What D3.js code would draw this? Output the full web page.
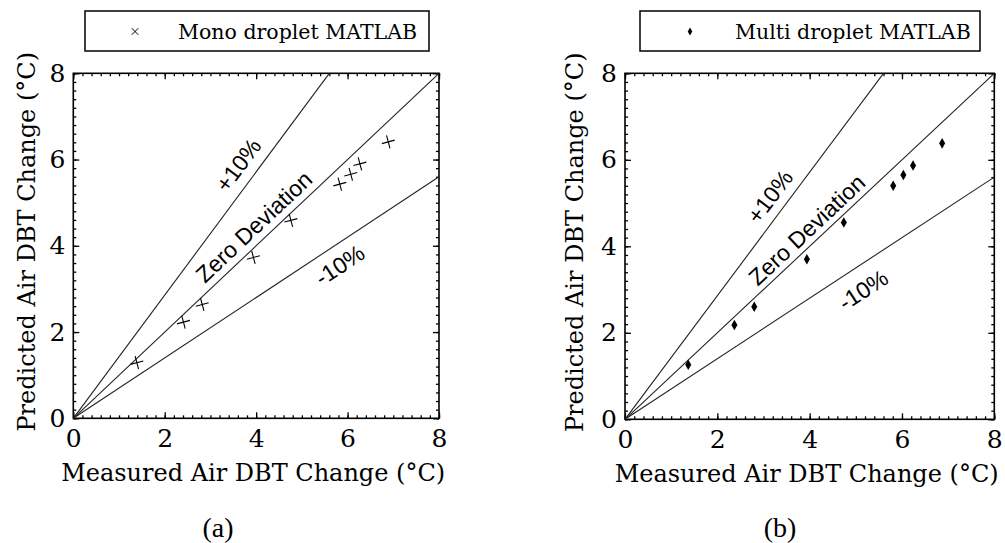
<!DOCTYPE html>
<html>
<head>
  <meta charset="utf-8">
  <title>Predicted vs measured air DBT change</title>
  <script src="https://d3js.org/d3.v7.min.js"></script>
  <style>
    body { margin: 0; background: #fff; }
    text { fill: #000; }
  </style>
</head>
<body>
  <script>
    // data
    const majorTicks = [0, 2, 4, 6, 8];
    const monoX  = [1.39, 2.41, 2.82, 3.94, 4.76, 5.83, 6.07, 6.27, 6.89];
    const monoY  = [1.29, 2.23, 2.64, 3.73, 4.59, 5.43, 5.66, 5.90, 6.41];
    const multiX = [1.37, 2.37, 2.80, 3.94, 4.74, 5.81, 6.03, 6.24, 6.87];
    const multiY = [1.26, 2.18, 2.60, 3.70, 4.55, 5.40, 5.65, 5.87, 6.38];
    const refSlopes = [1 / 0.7, 1, 0.7];
    const refLabels = ['+10%', 'Zero Deviation', '-10%'];

    const width = 1005, height = 543;
    const serif = 'DejaVu Serif';

    let svg = d3.select('body').append('svg')
      .attr('width', width)
      .attr('height', height);

    const minorTicks = d3.range(0, 8.001, 0.2).map(d => +d.toFixed(1));

    // one panel
    function drawPanel(p) {
      let x = d3.scaleLinear().domain([0, 8]).range([p.left, p.right]);
      let y = d3.scaleLinear().domain([0, 8]).range([p.bottom, p.top]);
      let g = svg.append('g');

      // ticks on all four sides, pointing inwards
      const sides = [
        [d3.axisBottom, `translate(0,${p.bottom})`, x],
        [d3.axisTop, `translate(0,${p.top})`, x],
        [d3.axisLeft, `translate(${p.left},0)`, y],
        [d3.axisRight, `translate(${p.right},0)`, y]
      ];
      sides.forEach(([ax, tr, sc], i) => {
        g.append('g').attr('transform', tr)
          .call(ax(sc).tickValues(minorTicks).tickSize(-3).tickFormat(''))
          .call(a => a.select('.domain').remove());
        let major = ax(sc).tickValues(majorTicks).tickSize(-6);
        if (i == 0) major.tickPadding(11);
        else if (i == 2) major.tickPadding(8);
        else major.tickFormat('');
        g.append('g').attr('transform', tr)
          .call(major)
          .call(a => a.select('.domain').remove())
          .call(a => a.selectAll('text')
            .attr('font-family', serif).attr('font-size', 25).attr('fill', '#000'));
      });
      g.selectAll('.tick line').attr('stroke', '#000').attr('stroke-width', 1.3);

      // frame
      g.append('rect')
        .attr('x', p.left).attr('y', p.top)
        .attr('width', p.right - p.left).attr('height', p.bottom - p.top)
        .attr('fill', 'none').attr('stroke', '#000').attr('stroke-width', 1.6);

      // deviation lines
      let line = d3.line().x(d => x(d[0])).y(d => y(d[1]));
      refSlopes.forEach((m, i) => {
        let end = [Math.min(8, 8 / m), Math.min(8, 8 * m)];
        g.append('path')
          .attr('d', line([[0, 0], end]))
          .attr('fill', 'none').attr('stroke', '#222').attr('stroke-width', 1.1);
        let ang = -Math.atan2(m * (p.bottom - p.top), p.right - p.left) * 180 / Math.PI;
        let pos = p.labelPos[i];
        g.append('text')
          .attr('transform', `translate(${x(pos[0])},${y(pos[1])}) rotate(${ang})`)
          .attr('text-anchor', 'middle')
          .attr('dominant-baseline', 'central')
          .attr('font-family', 'Liberation Sans')
          .attr('font-size', 23)
          .text(refLabels[i]);
      });

      // points
      let sym = d3.symbol().type(p.symbol).size(p.symSize);
      g.selectAll('.pt')
        .data(p.xs.map((d, i) => [d, p.ys[i]]))
        .enter()
        .append('path')
        .attr('transform', d => `translate(${x(d[0])},${y(d[1])}) rotate(${p.symRotate})`)
        .attr('d', sym)
        .attr('fill', p.filled ? '#000' : 'none')
        .attr('stroke', p.filled ? 'none' : '#000')
        .attr('stroke-width', 1.1);

      // axis titles
      g.append('text')
        .attr('x', (p.left + p.right) / 2 + p.xTitleShift).attr('y', p.bottom + 63)
        .attr('text-anchor', 'middle')
        .attr('font-family', serif).attr('font-size', 24)
        .text('Measured Air DBT Change (°C)');
      g.append('text')
        .attr('transform', `translate(${p.left - p.yTitleGap},${(p.top + p.bottom) / 2 - 4}) rotate(-90)`)
        .attr('text-anchor', 'middle')
        .attr('font-family', serif).attr('font-size', 24)
        .text('Predicted Air DBT Change (°C)');

      // legend
      let lg = p.legend;
      g.append('rect')
        .attr('x', lg.x).attr('y', 11)
        .attr('width', lg.w).attr('height', 40)
        .attr('fill', 'none').attr('stroke', '#000').attr('stroke-width', 1.5);
      g.append('path')
        .attr('transform', `translate(${lg.markX},31.5)`)
        .attr('d', d3.symbol().type(lg.symbol).size(lg.symSize))
        .attr('fill', p.filled ? '#000' : 'none')
        .attr('stroke', p.filled ? 'none' : '#000')
        .attr('stroke-width', 1);
      g.append('text')
        .attr('x', lg.textX).attr('y', 39)
        .attr('font-family', serif).attr('font-size', 20.5)
        .text(lg.text);

      // caption
      g.append('text')
        .attr('x', p.captionX).attr('y', 537)
        .attr('text-anchor', 'middle')
        .attr('font-family', 'Liberation Serif').attr('font-size', 28)
        .text(p.caption);
    }

    drawPanel({
      left: 73.3, right: 439, top: 73.3, bottom: 418.3,
      xs: monoX, ys: monoY,
      symbol: d3.symbolPlus, symSize: 60, symRotate: -15, filled: false,
      labelPos: [[3.61, 5.87], [3.95, 4.44], [5.83, 3.55]],
      xTitleShift: -3, yTitleGap: 38,
      legend: { x: 85, w: 344, markX: 135, symbol: d3.symbolTimes, symSize: 30,
                textX: 178, text: 'Mono droplet MATLAB' },
      caption: '(a)', captionX: 218
    });

    drawPanel({
      left: 625, right: 994.3, top: 73.3, bottom: 419.3,
      xs: multiX, ys: multiY,
      symbol: d3.symbolDiamond, symSize: 32, symRotate: 0, filled: true,
      labelPos: [[3.14, 5.15], [3.94, 4.38], [5.16, 2.99]],
      xTitleShift: -3, yTitleGap: 42,
      legend: { x: 640, w: 340, markX: 690, symbol: d3.symbolDiamond, symSize: 18,
                textX: 735, text: 'Multi droplet MATLAB' },
      caption: '(b)', captionX: 780
    });
  </script>
</body>
</html>
